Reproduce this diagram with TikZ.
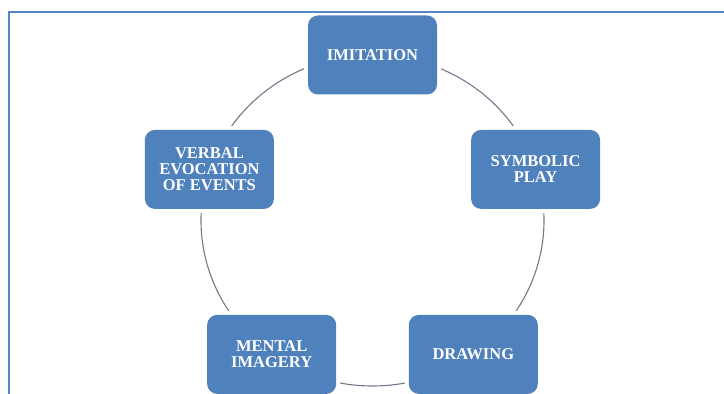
\documentclass[tikz,border=0pt]{standalone}
\usepackage{fontspec}
\setmainfont{Liberation Serif}
\usepackage{xcolor}
\usepackage{tikz}
\usetikzlibrary{backgrounds}
\definecolor{boxblue}{RGB}{79, 129, 189}
\definecolor{framblue}{RGB}{84, 134, 200}
\definecolor{arcgray}{RGB}{112, 122, 138}

\begin{document}
\begin{tikzpicture}[x=1pt, y=1pt,
    stage/.style={rectangle, rounded corners=10pt, fill=boxblue, text=white,
        minimum width=129pt, minimum height=79pt, align=center,
        font=\bfseries\fontsize{16.5}{16}\selectfont,
        preaction={draw=white, line width=8pt}},
    cycleline/.style={draw=arcgray, line width=1.1pt}]
    \useasboundingbox (0,0) rectangle (724,394);

    % the five stages round the cycle
    \node[stage] (imit) at (372.5,339) {IMITATION};
    \node[stage] (symb) at (535.6,224.6) {SYMBOLIC\\PLAY};
    \node[stage] (draw) at (473.3,39.6) {DRAWING};
    \node[stage] (ment) at (271.7,39.6) {MENTAL\\IMAGERY};
    \node[stage] (verb) at (209.4,224.6) {VERBAL\\EVOCATION\\OF EVENTS};

    % cycle arcs behind the boxes
    \begin{scope}[on background layer]
        \draw[cycleline] (imit.center) arc[start angle=90, end angle=162, x radius=171.5pt, y radius=165.5pt];
        \draw[cycleline] (verb.center) arc[start angle=162, end angle=234, x radius=171.5pt, y radius=165.5pt];
        \draw[cycleline] (ment.center) arc[start angle=234, end angle=306, x radius=171.5pt, y radius=165.5pt];
        \draw[cycleline] (draw.center) arc[start angle=306, end angle=378, x radius=171.5pt, y radius=165.5pt];
        \draw[cycleline] (symb.center) arc[start angle=18, end angle=90, x radius=171.5pt, y radius=165.5pt];
    \end{scope}

    % frame of the figure
    \draw[framblue, line width=2pt] (9,0) -- (9,382) -- (724,382);
\end{tikzpicture}
\end{document}
